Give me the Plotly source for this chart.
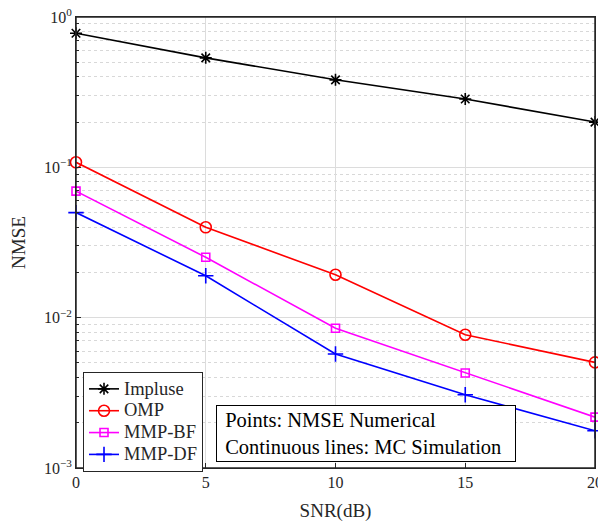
import plotly.graph_objects as go

snr = [0, 5, 10, 15, 20]
impulse = [0.78, 0.535, 0.382, 0.285, 0.20]
omp = [0.108, 0.0399, 0.0193, 0.0077, 0.00504]
mmp_bf = [0.0695, 0.0252, 0.0085, 0.00428, 0.00218]
mmp_df = [0.050, 0.019, 0.00573, 0.00307, 0.00177]
y_tick_vals = [1e-3, 1e-2, 1e-1, 1]
y_tick_text = ["10<sup>−3</sup>", "10<sup>−2</sup>", "10<sup>−1</sup>", "10<sup>0</sup>"]

series = [
    ("Impluse", impulse, "black", "asterisk-open", 10),
    ("OMP", omp, "#ff0000", "circle-open", 11),
    ("MMP-BF", mmp_bf, "#ff00ff", "square-open", 8),
    ("MMP-DF", mmp_df, "#0000ff", "cross-thin-open", 11),
]

FONT = "Liberation Serif, Times New Roman, serif"

fig = go.Figure()
for name, ys, color, sym, sz in series:
    fig.add_trace(go.Scatter(
        x=snr, y=ys, name=f"<span style='font-size:18.5px'>{name}</span>",
        mode="lines+markers", cliponaxis=False,
        line=dict(color=color, width=1.6),
        marker=dict(symbol=sym, size=sz, color=color, line=dict(color=color, width=1.6)),
    ))

# The page body has an 8px default margin; size the figure to fill the 606x522 window.
fig.update_layout(
    width=598, height=514,
    margin=dict(l=68, r=11, t=9, b=54),
    paper_bgcolor="white", plot_bgcolor="white",
    font=dict(family=FONT, size=16, color="#262626"),
    showlegend=True,
    legend=dict(
        x=0.0135, y=0.213, xanchor="left", yanchor="top",
        bgcolor="white", bordercolor="#262626", borderwidth=1,
        font=dict(family=FONT, size=14.5, color="#262626"),
        tracegroupgap=0, itemwidth=30,
    ),
    xaxis=dict(
        range=[0, 20], tickvals=snr,
        automargin=False, ticklabeloverflow="allow",
        showgrid=True, gridcolor="#dcdcdc", gridwidth=1,
        showline=True, linecolor="#262626", linewidth=1, mirror=True,
        ticks="inside", ticklen=5, tickcolor="#262626",
        tickfont=dict(family=FONT, size=16),
        zeroline=False,
        title=dict(text="SNR(dB)", font=dict(family=FONT, size=19)),
    ),
    yaxis=dict(
        type="log", range=[-3, 0],
        automargin=False, ticklabeloverflow="allow",
        tickvals=y_tick_vals, ticktext=y_tick_text,
        tickfont=dict(family=FONT, size=16),
        showgrid=True, gridcolor="#dcdcdc", gridwidth=1,
        showline=True, linecolor="#262626", linewidth=1, mirror=True,
        ticks="inside", ticklen=5, tickcolor="#262626",
        zeroline=False,
        minor=dict(ticks="inside", ticklen=3, tickcolor="#262626",
                   showgrid=True, gridcolor="#d8d8d8", griddash="dot", gridwidth=1,
                   tickvals=[m * 10**e for e in (-3, -2, -1) for m in range(2, 10)]),
        title=dict(text="NMSE", font=dict(family=FONT, size=19)),
    ),
)

# plot-area frame
fig.add_shape(type="rect", xref="paper", yref="paper", x0=0, y0=0, x1=1, y1=1,
              line=dict(color="#262626", width=1.5), layer="above")

fig.add_annotation(
    xref="paper", yref="paper", x=0.27, y=0.013, xanchor="left", yanchor="bottom",
    text="&nbsp;Points: NMSE Numerical<br>&nbsp;Continuous lines: MC Simulation",
    align="left", showarrow=False, width=292,
    font=dict(family=FONT, size=20.5, color="black"),
    bgcolor="white", bordercolor="black", borderwidth=1, borderpad=3,
)

fig.write_html("out.html")
